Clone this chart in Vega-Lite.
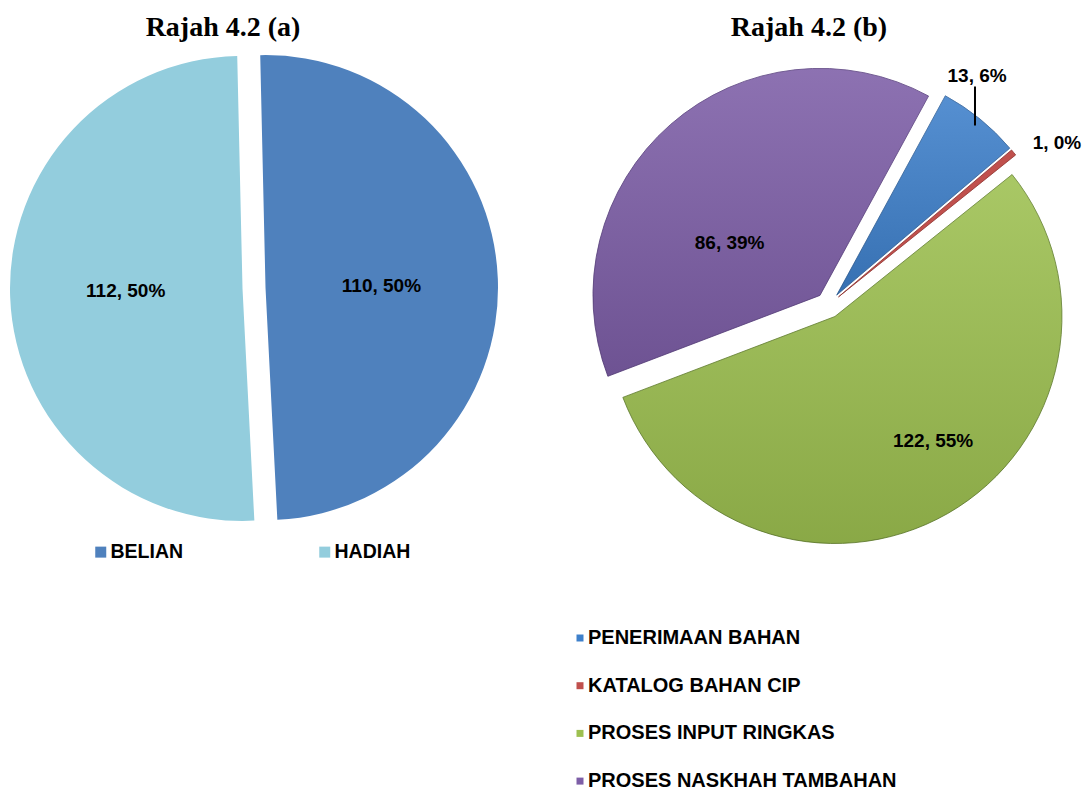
{
  "$schema": "https://vega.github.io/schema/vega-lite/v6.json",
  "padding": {"left": 0, "top": 14, "right": 0, "bottom": 0},
  "spacing": 60,
  "resolve": {"scale": {"color": "independent", "theta": "independent"}, "legend": {"color": "independent"}},
  "config": {
    "view": {"stroke": null},
    "title": {"font": "Liberation Serif", "fontSize": 28, "fontWeight": "bold", "color": "#000000", "baseline": "alphabetic", "offset": 11},
    "legend": {"padding": 0, "title": null}
  },
  "datasets": {
    "a": [
      {"cat": "BELIAN", "value": 110, "label": "110, 50%", "k": 1},
      {"cat": "HADIAH", "value": 112, "label": "112, 50%", "k": 2}
    ],
    "b": [
      {"cat": "PENERIMAAN BAHAN", "value": 13, "label": "13, 6%", "k": 1},
      {"cat": "KATALOG BAHAN CIP", "value": 1, "label": "1, 0%", "k": 2},
      {"cat": "PROSES INPUT RINGKAS", "value": 122, "label": "122, 55%", "k": 3},
      {"cat": "PROSES NASKHAH TAMBAHAN", "value": 86, "label": "86, 39%", "k": 4}
    ]
  },
  "hconcat": [
    {
      "width": 508,
      "height": 470,
      "title": {"text": "Rajah 4.2 (a)", "dx": -31},
      "data": {"name": "a"},
      "encoding": {
        "theta": {"field": "value", "type": "quantitative", "stack": true, "scale": {"range": [-0.0227, 6.2605]}},
        "order": {"field": "k", "type": "quantitative"}
      },
      "layer": [
        {
          "mark": {"type": "arc", "outerRadius": 232.5, "xOffset": 11.5, "yOffset": -0.4},
          "encoding": {
            "color": {
              "condition": {
                "test": "datum.cat === 'BELIAN'", "field": "cat", "type": "nominal",
                "scale": {"domain": ["BELIAN", "HADIAH"], "range": ["#4F81BD", "#93CDDD"]},
                "legend": {"orient": "none", "legendX": 91, "legendY": 489, "direction": "horizontal", "columns": 2, "columnPadding": 131, "symbolType": "square", "symbolSize": 121, "symbolStrokeWidth": 0, "labelFont": "Liberation Sans", "labelFontWeight": "bold", "labelFontSize": 19.5, "labelColor": "#000000", "labelOffset": 0, "labelLimit": 400}
              },
              "value": "transparent"
            }
          }
        },
        {
          "mark": {"type": "arc", "outerRadius": 232.5, "xOffset": -11.5, "yOffset": 0.4},
          "encoding": {
            "color": {"condition": {"test": "datum.cat === 'HADIAH'", "field": "cat", "type": "nominal"}, "value": "transparent"}
          }
        },
        {
          "mark": {"type": "text", "radius": 116, "xOffset": 11.5, "yOffset": 2.5, "font": "Liberation Sans", "fontWeight": "bold", "fontSize": 19, "color": "#000000"},
          "encoding": {
            "detail": {"field": "cat", "type": "nominal"},
            "text": {"condition": {"test": "datum.cat === 'BELIAN'", "field": "label", "type": "nominal"}, "value": ""}
          }
        },
        {
          "mark": {"type": "text", "radius": 116, "xOffset": -12.4, "yOffset": -0.9, "font": "Liberation Sans", "fontWeight": "bold", "fontSize": 19, "color": "#000000"},
          "encoding": {
            "detail": {"field": "cat", "type": "nominal"},
            "text": {"condition": {"test": "datum.cat === 'HADIAH'", "field": "label", "type": "nominal"}, "value": ""}
          }
        }
      ]
    },
    {
      "width": 521,
      "height": 470,
      "title": {"text": "Rajah 4.2 (b)", "dx": -19.5},
      "data": {"name": "b"},
      "resolve": {"scale": {"theta": "independent"}},
      "encoding": {
        "theta": {"field": "value", "type": "quantitative", "stack": true, "scale": {"range": [0.499, 6.782]}},
        "order": {"field": "k", "type": "quantitative"}
      },
      "layer": [
        {
          "mark": {"type": "arc", "outerRadius": 227, "xOffset": 8.2, "yOffset": 7.1, "stroke": "#2F5F96", "strokeWidth": 1},
          "encoding": {
            "color": {
              "condition": {
                "test": "datum.cat === 'PENERIMAAN BAHAN'", "field": "cat", "type": "nominal",
                "scale": {"domain": ["PENERIMAAN BAHAN", "KATALOG BAHAN CIP", "PROSES INPUT RINGKAS", "PROSES NASKHAH TAMBAHAN"], "range": ["#3E80CB", "#C0504D", "#9DC050", "#7D5EA7"]},
                "legend": {"orient": "none", "legendX": 2, "legendY": 575, "direction": "vertical", "rowPadding": 27.7, "symbolType": "square", "symbolSize": 49, "symbolStrokeWidth": 0, "labelFont": "Liberation Sans", "labelFontWeight": "bold", "labelFontSize": 20, "labelColor": "#000000", "labelOffset": -2, "labelLimit": 400}
              },
              "value": "transparent"
            },
            "strokeOpacity": {"condition": {"test": "datum.cat === 'PENERIMAAN BAHAN'", "value": 0.8}, "value": 0}
          }
        },
        {
          "mark": {"type": "arc", "outerRadius": 227, "xOffset": 10.0, "yOffset": 8.9, "stroke": "#8E3330", "strokeWidth": 1},
          "encoding": {
            "color": {"condition": {"test": "datum.cat === 'KATALOG BAHAN CIP'", "field": "cat", "type": "nominal"}, "value": "transparent"},
            "strokeOpacity": {"condition": {"test": "datum.cat === 'KATALOG BAHAN CIP'", "value": 0.8}, "value": 0}
          }
        },
        {
          "mark": {"type": "arc", "outerRadius": 227, "xOffset": 6.45, "yOffset": 28.5, "stroke": "#5E7A2A", "strokeWidth": 1},
          "encoding": {
            "color": {"condition": {"test": "datum.cat === 'PROSES INPUT RINGKAS'", "field": "cat", "type": "nominal"}, "value": "transparent"},
            "strokeOpacity": {"condition": {"test": "datum.cat === 'PROSES INPUT RINGKAS'", "value": 0.8}, "value": 0}
          }
        },
        {
          "mark": {"type": "arc", "outerRadius": 227, "xOffset": -8.55, "yOffset": 7.4, "stroke": "#553C7A", "strokeWidth": 1},
          "encoding": {
            "color": {"condition": {"test": "datum.cat === 'PROSES NASKHAH TAMBAHAN'", "field": "cat", "type": "nominal"}, "value": "transparent"},
            "strokeOpacity": {"condition": {"test": "datum.cat === 'PROSES NASKHAH TAMBAHAN'", "value": 0.8}, "value": 0}
          }
        },
        {
          "mark": {"type": "arc", "outerRadius": 227, "xOffset": 8.2, "yOffset": 7.1, "fill": {"gradient": "linear", "x1": 0, "y1": 0, "x2": 0, "y2": 1, "stops": [{"offset": 0, "color": "#ffffff"}, {"offset": 0.5, "color": "#808080"}, {"offset": 1, "color": "#000000"}]}},
          "encoding": {"fillOpacity": {"condition": {"test": "datum.cat === 'PENERIMAAN BAHAN'", "value": 0.12}, "value": 0}}
        },
        {
          "mark": {"type": "arc", "outerRadius": 227, "xOffset": 6.45, "yOffset": 28.5, "fill": {"gradient": "linear", "x1": 0, "y1": 0, "x2": 0, "y2": 1, "stops": [{"offset": 0, "color": "#ffffff"}, {"offset": 0.5, "color": "#808080"}, {"offset": 1, "color": "#000000"}]}},
          "encoding": {"fillOpacity": {"condition": {"test": "datum.cat === 'PROSES INPUT RINGKAS'", "value": 0.12}, "value": 0}}
        },
        {
          "mark": {"type": "arc", "outerRadius": 227, "xOffset": -8.55, "yOffset": 7.4, "fill": {"gradient": "linear", "x1": 0, "y1": 0, "x2": 0, "y2": 1, "stops": [{"offset": 0, "color": "#ffffff"}, {"offset": 0.5, "color": "#808080"}, {"offset": 1, "color": "#000000"}]}},
          "encoding": {"fillOpacity": {"condition": {"test": "datum.cat === 'PROSES NASKHAH TAMBAHAN'", "value": 0.12}, "value": 0}}
        },
        {
          "mark": {"type": "arc", "innerRadius": 150, "outerRadius": 189, "padAngle": 0.6, "xOffset": 146.5, "yOffset": -12.5, "fill": "transparent", "stroke": "#000000", "strokeWidth": 2},
          "encoding": {
            "theta": {"field": "value", "type": "quantitative", "stack": true, "scale": {"range": [-0.184, 6.0992]}},
            "strokeOpacity": {"condition": {"test": "datum.cat === 'PENERIMAAN BAHAN'", "value": 1}, "value": 0}
          }
        },
        {
          "mark": {"type": "text", "radius": 260, "xOffset": -15.5, "yOffset": -9.9, "font": "Liberation Sans", "fontWeight": "bold", "fontSize": 19, "color": "#000000"},
          "encoding": {
            "detail": {"field": "cat", "type": "nominal"},
            "text": {"condition": {"test": "datum.cat === 'PENERIMAAN BAHAN'", "field": "label", "type": "nominal"}, "value": ""}
          }
        },
        {
          "mark": {"type": "text", "radius": 267, "xOffset": 22.5, "yOffset": 24.4, "font": "Liberation Sans", "fontWeight": "bold", "fontSize": 19, "color": "#000000"},
          "encoding": {
            "detail": {"field": "cat", "type": "nominal"},
            "text": {"condition": {"test": "datum.cat === 'KATALOG BAHAN CIP'", "field": "label", "type": "nominal"}, "value": ""}
          }
        },
        {
          "mark": {"type": "text", "radius": 159, "xOffset": 25.6, "yOffset": 15.4, "font": "Liberation Sans", "fontWeight": "bold", "fontSize": 19, "color": "#000000"},
          "encoding": {
            "detail": {"field": "cat", "type": "nominal"},
            "text": {"condition": {"test": "datum.cat === 'PROSES INPUT RINGKAS'", "field": "label", "type": "nominal"}, "value": ""}
          }
        },
        {
          "mark": {"type": "text", "radius": 104.5, "xOffset": -30.1, "yOffset": 33.7, "font": "Liberation Sans", "fontWeight": "bold", "fontSize": 19, "color": "#000000"},
          "encoding": {
            "detail": {"field": "cat", "type": "nominal"},
            "text": {"condition": {"test": "datum.cat === 'PROSES NASKHAH TAMBAHAN'", "field": "label", "type": "nominal"}, "value": ""}
          }
        }
      ]
    }
  ]
}
